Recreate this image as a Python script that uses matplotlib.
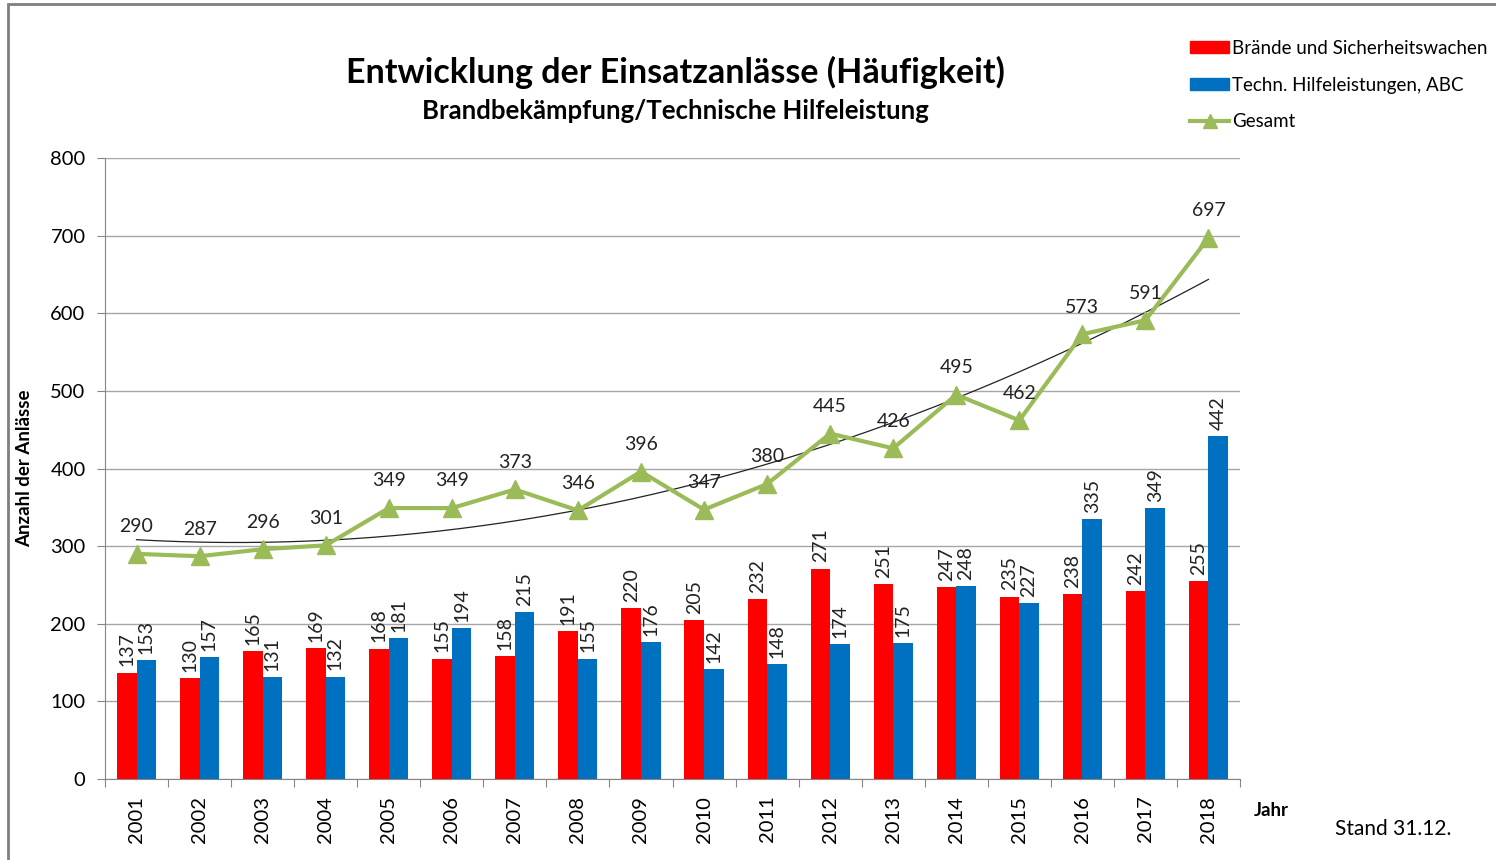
import numpy as np
import matplotlib.pyplot as plt
from matplotlib.patches import Rectangle
from matplotlib.lines import Line2D

plt.rcParams['font.family'] = ['Lato', 'DejaVu Sans']

jahre = [2001, 2002, 2003, 2004, 2005, 2006, 2007, 2008, 2009,
         2010, 2011, 2012, 2013, 2014, 2015, 2016, 2017, 2018]
braende = [137, 130, 165, 169, 168, 155, 158, 191, 220,
           205, 232, 271, 251, 247, 235, 238, 242, 255]
hilfe = [153, 157, 131, 132, 181, 194, 215, 155, 176,
         142, 148, 174, 175, 248, 227, 335, 349, 442]
gesamt = [290, 287, 296, 301, 349, 349, 373, 346, 396,
          347, 380, 445, 426, 495, 462, 573, 591, 697]

rot = '#ff0000'
blau = '#0070c0'
gruen = '#9bbb59'

fig = plt.figure(figsize=(14.96, 8.6), dpi=100)
ax = fig.add_axes([105/1496, 1-779/860, 1135/1496, 621/860])

x = np.arange(len(jahre))
w = 0.31
ax.bar(x - w/2, braende, w, color=rot, zorder=3)
ax.bar(x + w/2, hilfe, w, color=blau, zorder=3)

for i in x:
    ax.text(i - w/2, braende[i] + 8, str(braende[i]), rotation=90,
            ha='center', va='bottom', fontsize=14, color='#222222', zorder=5)
    ax.text(i + w/2, hilfe[i] + 8, str(hilfe[i]), rotation=90,
            ha='center', va='bottom', fontsize=14, color='#222222', zorder=5)

# trendlinie (polynom 2. grades)
koef = np.polyfit(x, gesamt, 2)
xt = np.linspace(0, len(jahre) - 1, 200)
ax.plot(xt, np.polyval(koef, xt), color='#222222', lw=0.9, zorder=4)

ax.plot(x, gesamt, color=gruen, lw=3, marker='^', ms=13, zorder=5)
for i in x:
    ax.text(i, gesamt[i] + 24, str(gesamt[i]), ha='center', va='bottom',
            fontsize=14, color='#222222', zorder=6)

ax.set_xlim(-0.5, len(jahre) - 0.5)
ax.set_ylim(0, 800)
ax.set_yticks(range(0, 801, 100))
ax.yaxis.grid(True, color='#a6a6a6', lw=1, zorder=0)
ax.set_xticks(np.arange(-0.5, len(jahre), 1))
ax.set_xticklabels([])
ax.set_xticks(x, minor=True)
ax.set_xticklabels([str(j) for j in jahre], minor=True, rotation=90, fontsize=14.5)
ax.tick_params(axis='x', which='minor', length=0, pad=12)
ax.tick_params(axis='x', which='major', length=6, color='#868686')
ax.tick_params(axis='y', length=6, color='#868686', labelsize=14.5, pad=8)
for s in ['top', 'right']:
    ax.spines[s].set_visible(False)
for s in ['left', 'bottom']:
    ax.spines[s].set_color('#868686')

ax.set_ylabel('Anzahl der Anlässe', fontsize=13.5, fontweight='bold')
ax.yaxis.set_label_coords(-72/1135, 0.5)

fig.text(675/1496, 1-72/860, 'Entwicklung der Einsatzanlässe (Häufigkeit)',
         ha='center', va='center', fontsize=24.5, fontweight='bold')
fig.text(675/1496, 1-111/860, 'Brandbekämpfung/Technische Hilfeleistung',
         ha='center', va='center', fontsize=18.5, fontweight='bold')
fig.text(1271/1496, 1-811/860, 'Jahr', ha='center', va='center',
         fontsize=13.5, fontweight='bold')
fig.text(1393/1496, 1-829/860, 'Stand 31.12.', ha='center', va='center',
         fontsize=15)

handles = [Rectangle((0, 0), 1, 1, color=rot),
           Rectangle((0, 0), 1, 1, color=blau),
           Line2D([], [], color=gruen, lw=3, marker='^', ms=10)]
fig.legend(handles, ['Brände und Sicherheitswachen', 'Techn. Hilfeleistungen, ABC', 'Gesamt'],
           loc='upper left', bbox_to_anchor=(1190/1496, 1-40/860), frameon=False,
           fontsize=13.5, handlelength=2.1, handleheight=0.6, handletextpad=0.15,
           labelspacing=1.05, borderaxespad=0, borderpad=0)

fig.add_artist(Rectangle((8/1496, -0.1), 1.2, 1 - 4/860 + 0.1, transform=fig.transFigure,
                         fill=False, edgecolor='#7f7f7f', lw=2))

fig.savefig('out.png', dpi=100)
